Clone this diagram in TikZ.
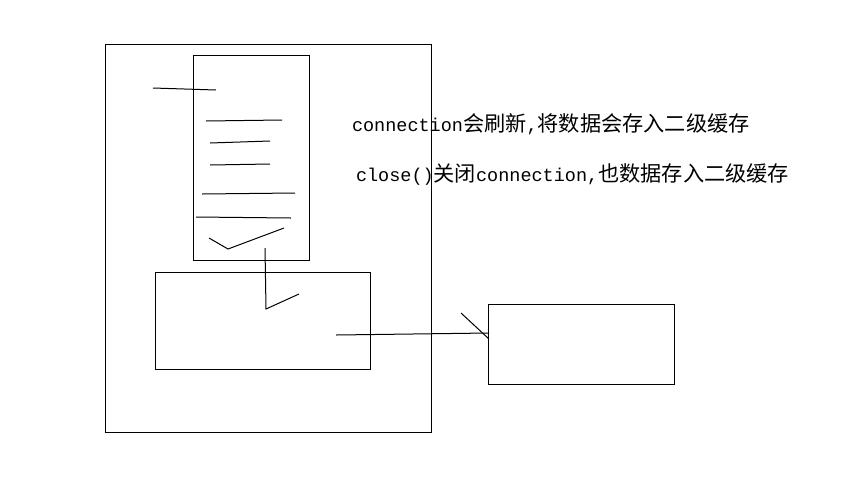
\documentclass[tikz,border=0pt]{standalone}
\usepackage{fontspec}
\newfontfamily\latf{Liberation Mono}
\newfontfamily\cjkf{Noto Sans CJK SC}
\newcommand{\La}[1]{{\latf\fontsize{18.5}{20}\selectfont #1}}
\newcommand{\Ch}[1]{{\cjkf\fontsize{21.2}{22}\selectfont #1}}
\begin{document}
\begin{tikzpicture}[x=1pt,y=-1pt,
  box/.style={draw=black, line width=1pt, inner sep=0pt, outer sep=0pt, anchor=north west},
  pen/.style={draw=black, line width=1pt},
  lbl/.style={anchor=base west, inner sep=0pt, outer sep=0pt, text=black}]
\useasboundingbox[fill=white] (0,0) rectangle (856,488);
% rectangles
\node[box, minimum width=326pt, minimum height=388pt] (big) at (105,44) {};
\node[box, minimum width=116pt, minimum height=205pt] (tall) at (193,55) {};
\node[box, minimum width=215pt, minimum height=97pt] (small) at (155,272) {};
\node[box, minimum width=186pt, minimum height=80pt] (right) at (488,304) {};
% scribbled lines inside the tall box
\draw[pen] (153,88) -- (216,90);
\draw[pen] (206,121) -- (282,120);
\draw[pen] (210,143) -- (270,141);
\draw[pen] (210,165) -- (270,164);
\draw[pen] (202,194) -- (295,193);
\draw[pen] (196,217) -- (291,218);
\draw[pen] (209,238) -- (228,249) -- (284,228);
% arrow from tall box down into small box
\coordinate (a0) at (265,248);
\coordinate (a1) at (266,309);
\coordinate (a2) at (299,294);
\draw[pen] (a0) -- (a1) -- (a2);
% connector from small box to right box
\coordinate (c0) at (336,335);
\coordinate (c1) at (489,333);
\coordinate (t0) at (461,313);
\coordinate (t1) at (489,339);
\draw[pen] (c0) -- (c1);
\draw[pen] (t0) -- (t1);
% texts
\node[lbl] (txt1) at (352,131) {\La{connection}\Ch{会刷新}\La{,}\Ch{将数据会存入二级缓存}};
\node[lbl] (txt2) at (356,181) {\La{close()}\Ch{关闭}\La{connection,}\Ch{也数据存入二级缓存}};
\end{tikzpicture}
\end{document}
